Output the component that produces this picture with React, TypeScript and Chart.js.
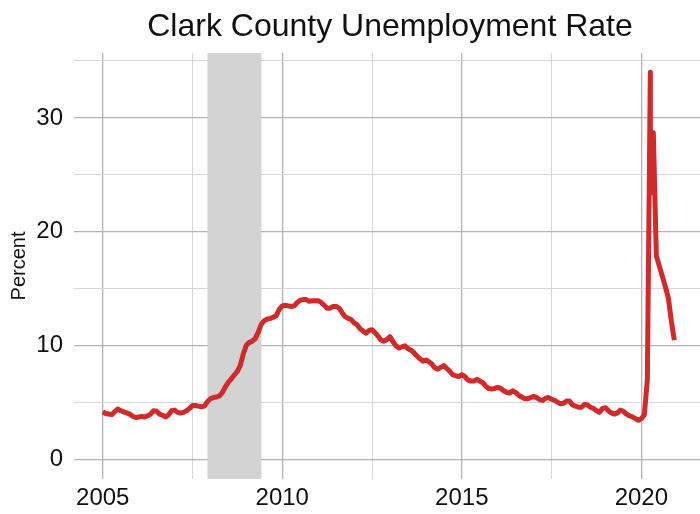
import React, { useEffect, useRef } from 'react';
import { Chart, registerables } from 'chart.js';

Chart.register(...registerables);

const TITLE = 'Clark County Unemployment Rate';
const Y_TITLE = 'Percent';
const START_YEAR = 2005;

// Monthly unemployment rate (%), Jan..Dec
const rate2005 = [4.2, 4.05, 4.0, 3.95, 4.2, 4.45, 4.3, 4.2, 4.1, 4.0, 3.8, 3.7];
const rate2006 = [3.75, 3.8, 3.75, 3.85, 4.0, 4.3, 4.25, 4.0, 3.9, 3.75, 3.95, 4.3];
const rate2007 = [4.35, 4.15, 4.1, 4.15, 4.3, 4.5, 4.75, 4.75, 4.7, 4.65, 4.7, 5.1];
const rate2008 = [5.35, 5.45, 5.5, 5.6, 5.9, 6.4, 6.8, 7.1, 7.45, 7.75, 8.3, 9.3];
const rate2009 = [10.05, 10.3, 10.4, 10.65, 11.2, 11.9, 12.2, 12.35, 12.4, 12.5, 12.65, 13.2];
const rate2010 = [13.5, 13.55, 13.5, 13.45, 13.5, 13.8, 14.0, 14.05, 14.05, 13.9, 13.95, 13.95];
const rate2011 = [13.95, 13.8, 13.55, 13.3, 13.3, 13.45, 13.45, 13.3, 12.9, 12.55, 12.4, 12.3];
const rate2012 = [12.0, 11.85, 11.5, 11.3, 11.1, 11.35, 11.4, 11.15, 10.85, 10.5, 10.4, 10.55];
const rate2013 = [10.8, 10.35, 10.0, 9.8, 9.9, 10.0, 9.75, 9.6, 9.4, 9.1, 8.85, 8.65];
const rate2014 = [8.75, 8.6, 8.4, 8.05, 7.95, 8.1, 8.25, 8.0, 7.75, 7.45, 7.35, 7.3];
const rate2015 = [7.45, 7.3, 7.0, 6.9, 6.9, 7.05, 6.9, 6.75, 6.45, 6.25, 6.2, 6.25];
const rate2016 = [6.35, 6.25, 6.05, 5.9, 5.85, 6.05, 5.9, 5.65, 5.5, 5.35, 5.35, 5.45];
const rate2017 = [5.55, 5.45, 5.25, 5.2, 5.4, 5.45, 5.3, 5.2, 5.05, 4.9, 4.95, 5.15];
const rate2018 = [5.15, 4.8, 4.7, 4.6, 4.6, 4.85, 4.8, 4.6, 4.5, 4.3, 4.15, 4.5];
const rate2019 = [4.55, 4.3, 4.1, 4.0, 4.1, 4.35, 4.25, 4.0, 3.85, 3.75, 3.6, 3.45];
// 2020: month offsets (April reported twice) and values
const months2020 = [0, 1, 2, 3, 3, 4, 5, 6, 7, 8, 9, 10, 11];
const rate2020 = [3.6, 3.95, 7.0, 34.0, 23.4, 28.7, 17.9, 17.0, 16.1, 15.2, 14.2, 12.2, 10.5];

const yearlyRates = [
  rate2005, rate2006, rate2007, rate2008, rate2009, rate2010, rate2011, rate2012,
  rate2013, rate2014, rate2015, rate2016, rate2017, rate2018, rate2019,
];

// Recession (Dec 2007 - Jun 2009)
const RECESSION_START = 2007 + 11 / 12;
const RECESSION_END = 2009 + 5 / 12;

const X_MAJOR = [2005, 2010, 2015, 2020];
const X_MINOR = [2007.5, 2012.5, 2017.5];
const Y_MAJOR = [0, 10, 20, 30];
const Y_MINOR = [5, 15, 25, 35];

const X_MIN = 2004.2;
const X_MAX = 2021.8;
const Y_MIN = -1.7;
const Y_MAX = 35.7;

const FONT = '"Liberation Sans", Arial, Helvetica, sans-serif';
const TEXT_COLOR = '#111111';
const LINE_COLOR = '#d12a2a';
const RECESSION_COLOR = '#d3d3d3';
const GRID_MAJOR = '#b3b3b3';
const GRID_MINOR = '#d6d6d6';

const recessionPlugin = {
  id: 'recession',
  beforeDatasetsDraw(chart: any) {
    const { ctx, chartArea, scales } = chart;
    const x0 = scales.x.getPixelForValue(RECESSION_START);
    const x1 = scales.x.getPixelForValue(RECESSION_END);
    ctx.save();
    ctx.fillStyle = RECESSION_COLOR;
    ctx.fillRect(x0, chartArea.top, x1 - x0, chartArea.bottom - chartArea.top);
    ctx.restore();
  },
};

const textPlugin = {
  id: 'texts',
  afterDraw(chart: any) {
    const { ctx, chartArea } = chart;
    ctx.save();
    ctx.fillStyle = TEXT_COLOR;
    ctx.font = `32px ${FONT}`;
    ctx.textAlign = 'center';
    ctx.textBaseline = 'alphabetic';
    ctx.fillText(TITLE, (chartArea.left + chartArea.right) / 2, 36);
    ctx.translate(25, (chartArea.top + chartArea.bottom) / 2);
    ctx.rotate(-Math.PI / 2);
    ctx.font = `20px ${FONT}`;
    ctx.fillText(Y_TITLE, 0, 0);
    ctx.restore();
  },
};

export default function App() {
  const ref = useRef<HTMLCanvasElement>(null);

  useEffect(() => {
    if (!ref.current) return;
    const points: { x: number; y: number }[] = [];
    yearlyRates.forEach((arr, yi) =>
      arr.forEach((v, m) => points.push({ x: START_YEAR + yi + m / 12, y: v }))
    );
    months2020.forEach((m, i) => points.push({ x: 2020 + m / 12, y: rate2020[i] }));

    const chart = new Chart(ref.current, {
      type: 'line',
      data: {
        datasets: [
          {
            data: points,
            borderColor: LINE_COLOR,
            borderWidth: 5,
            pointRadius: 0,
            tension: 0,
            fill: false,
            borderJoinStyle: 'round',
            borderCapStyle: 'butt',
          } as any,
        ],
      },
      options: {
        animation: false,
        responsive: false,
        maintainAspectRatio: false,
        layout: { padding: { top: 53, left: 0, right: 0, bottom: 0 } },
        plugins: {
          legend: { display: false },
          tooltip: { enabled: false },
          title: { display: false },
        },
        scales: {
          x: {
            type: 'linear',
            min: X_MIN,
            max: X_MAX,
            afterBuildTicks: (axis: any) => {
              axis.ticks = [...X_MAJOR, ...X_MINOR].sort((a, b) => a - b).map((v) => ({ value: v }));
            },
            afterFit: (scale: any) => {
              scale.height = 35;
            },
            border: { display: false },
            grid: {
              drawTicks: false,
              color: (ctx: any) => (X_MAJOR.includes(ctx.tick?.value) ? GRID_MAJOR : GRID_MINOR),
              lineWidth: (ctx: any) => (X_MAJOR.includes(ctx.tick?.value) ? 1.3 : 1),
            },
            ticks: {
              autoSkip: false,
              maxRotation: 0,
              padding: 5,
              color: TEXT_COLOR,
              font: { family: FONT, size: 24 },
              callback: (v: any) => (X_MAJOR.includes(Number(v)) ? String(v) : ''),
            },
          },
          y: {
            type: 'linear',
            min: Y_MIN,
            max: Y_MAX,
            afterBuildTicks: (axis: any) => {
              axis.ticks = [...Y_MAJOR, ...Y_MINOR].sort((a, b) => a - b).map((v) => ({ value: v }));
            },
            afterFit: (scale: any) => {
              scale.width = 74;
            },
            border: { display: false },
            grid: {
              drawTicks: false,
              color: (ctx: any) => (Y_MAJOR.includes(ctx.tick?.value) ? GRID_MAJOR : GRID_MINOR),
              lineWidth: (ctx: any) => (Y_MAJOR.includes(ctx.tick?.value) ? 1.3 : 1),
            },
            ticks: {
              autoSkip: false,
              padding: 11,
              color: TEXT_COLOR,
              font: { family: FONT, size: 24 },
              callback: (v: any) => (Y_MAJOR.includes(Number(v)) ? String(v) : ''),
            },
          },
        },
      },
      plugins: [recessionPlugin, textPlugin],
    });
    return () => chart.destroy();
  }, []);

  return (
    <div style={{ position: 'fixed', left: 0, top: 0, width: 700, height: 514, overflow: 'hidden', background: '#fff' }}>
      <canvas ref={ref} width={706} height={514} style={{ display: 'block', width: 706, height: 514 }} />
    </div>
  );
}
